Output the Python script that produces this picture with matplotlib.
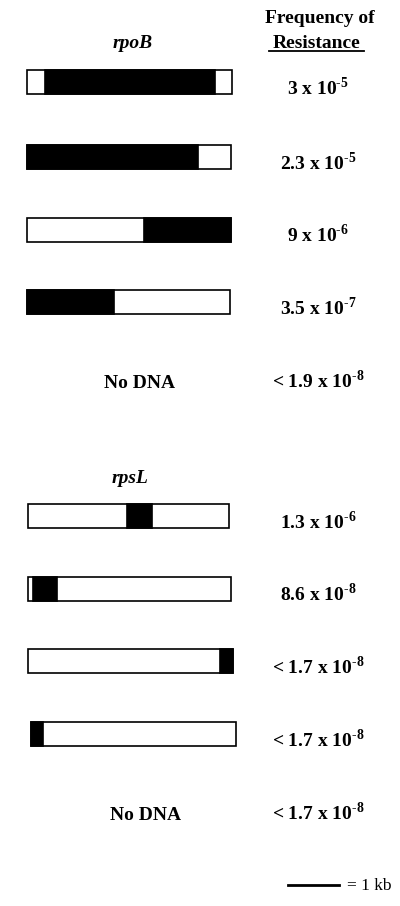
import matplotlib
matplotlib.use("Agg")
import matplotlib.pyplot as plt
from matplotlib import transforms

# gene constructs: total insert span and the dark (marker) segment, in kb
rpob_spans = [(0.0, 4.02), (0.0, 4.0), (0.0, 4.0), (0.0, 3.98)]
rpob_black = [(0.35, 3.69), (0.0, 3.36), (2.30, 4.0), (0.0, 1.70)]
rpob_freq = ["3 x 10", "2.3 x 10", "9 x 10", "3.5 x 10", "< 1.9 x 10"]
rpob_exp = ["-5", "-5", "-6", "-7", "-8"]

rpsl_spans = [(0.01, 3.97), (0.01, 4.0), (0.01, 4.03), (0.07, 4.10)]
rpsl_black = [(1.97, 2.45), (0.11, 0.58), (3.78, 4.03), (0.07, 0.32)]
rpsl_freq = ["1.3 x 10", "8.6 x 10", "< 1.7 x 10", "< 1.7 x 10", "< 1.7 x 10"]
rpsl_exp = ["-6", "-8", "-8", "-8", "-8"]

scale_kb = 1.0

plt.rcParams["mathtext.fontset"] = "custom"
plt.rcParams["mathtext.rm"] = "Liberation Serif:bold"
plt.rcParams["mathtext.bf"] = "Liberation Serif:bold"

BOLD = dict(family="Liberation Serif", weight="bold", fontsize=14)

fig = plt.figure(figsize=(4.0, 9.06), dpi=100)
ax = fig.add_axes([0, 0, 1, 1])
ax.set_xlim(-27 / 51, 373 / 51)
ax.set_ylim(906, 0)
ax.axis("off")

mix = transforms.blended_transform_factory(ax.transAxes, ax.transData)


def draw_block(rows, spans, blacks, freqs, exps, nodna_y, nodna_x, label, label_y, label_x):
    for y, (s0, s1), (b0, b1) in zip(rows, spans, blacks):
        ax.barh(y, s1 - s0, left=s0, height=24, color="white",
                edgecolor="black", linewidth=1.2)
        ax.barh(y, b1 - b0, left=b0, height=24, color="black",
                edgecolor="black", linewidth=1.2)
    ys = [r + 13 for r in rows] + [nodna_y]
    for y, base, e in zip(ys, freqs, exps):
        ax.text(0.795, y, base + r"$^{\text{" + e + "}}$", transform=mix,
                ha="center", va="baseline", **BOLD)
    ax.text(nodna_x / 400, nodna_y, "No DNA", transform=mix,
            ha="center", va="baseline", **BOLD)
    ax.text(label_x / 400, label_y, label, transform=mix, ha="center",
            va="baseline", style="italic", **BOLD)


draw_block([82, 157, 229.5, 302], rpob_spans, rpob_black, rpob_freq, rpob_exp,
           388, 140, "rpoB", 48, 133)
draw_block([516, 588.5, 661, 734], rpsl_spans, rpsl_black, rpsl_freq, rpsl_exp,
           820, 146, "rpsL", 483, 130)

# header
ax.text(0.80, 23, "Frequency of", transform=mix, ha="center", va="baseline", **BOLD)
ax.text(0.791, 48, "Resistance", transform=mix, ha="center", va="baseline", **BOLD)
ax.plot([269 / 400, 364 / 400], [51, 51], transform=mix, color="black", lw=1.3)

# scale bar
x0 = (288 - 27) / 51
ax.plot([x0, x0 + scale_kb], [885, 885], color="black", lw=2)
ax.text(x0 + scale_kb + 0.15, 890, "= 1 kb", family="Liberation Serif",
        fontsize=12.5, ha="left", va="baseline")

fig.savefig("out.png", dpi=100)
